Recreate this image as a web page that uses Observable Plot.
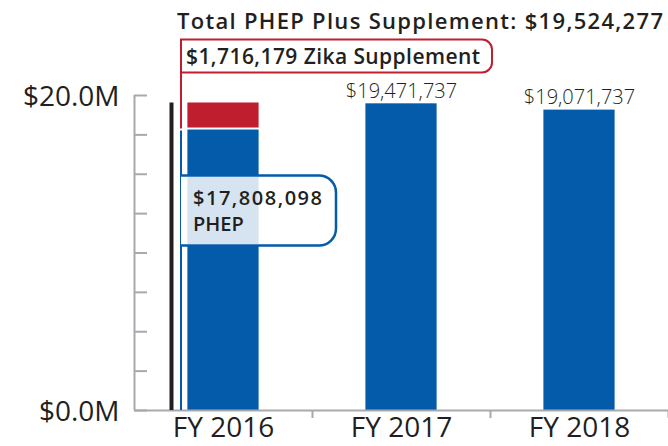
<!DOCTYPE html>
<html>
<head>
<meta charset="utf-8">
<script src="https://cdn.jsdelivr.net/npm/d3@7"></script>
<script src="https://cdn.jsdelivr.net/npm/@observablehq/plot@0.6"></script>
<style>
  html, body { margin: 0; padding: 0; background: #fff; }
  #chart { width: 668px; height: 446px; overflow: hidden; }
</style>
</head>
<body>
<div id="chart"></div>
<script>
// ---- data ----
const years = ["FY 2016", "FY 2017", "FY 2018"];
const phep = [17808098, 19471737, 19071737];
const zika = [1716179, 0, 0];
const yTicks = [0, 2.5e6, 5e6, 7.5e6, 10e6, 12.5e6, 15e6, 17.5e6, 20e6];
const yLabelTicks = [0, 20e6];
const xBoundaries = [0.5, 1.5, 2.5];
const titleText = "Total PHEP Plus Supplement: $19,524,277";
const zikaLabel = "$1,716,179 Zika Supplement";
const phepLabel = ["$17,808,098", "PHEP"];

// ---- style ----
const blue = "#035ba9", red = "#be1e2d", gray = "#a7a9ac", ink = "#231f20";
const lightBlue = "#d5e4f0";
const barHalf = 0.2;
const font = "'Open Sans', 'Noto Sans', sans-serif";

const rows = years.map((year, i) => ({
  i, year, phep: phep[i], zika: zika[i], total: phep[i] + zika[i]
}));
const fmt = d3.format("$,");

const chart = Plot.plot({
  width: 668,
  height: 446,
  marginLeft: 134,
  marginRight: 0,
  marginTop: 95,
  marginBottom: 36,
  style: {fontFamily: font, color: ink, background: "white", overflow: "visible"},
  x: {domain: [-0.5, 2.5], axis: null},
  y: {domain: [0, 20e6], axis: null},
  marks: [
    Plot.rectY(rows, {x1: d => d.i - barHalf, x2: d => d.i + barHalf, y1: 0, y2: "phep", fill: blue}),
    Plot.rectY(rows.filter(d => d.zika > 0), {x1: d => d.i - barHalf, x2: d => d.i + barHalf, y1: "phep", y2: "total", fill: red, insetBottom: 2}),
    Plot.ruleY([0], {stroke: gray, strokeWidth: 2}),
    Plot.ruleX([-0.5], {y1: 0, y2: 20e6, stroke: gray, strokeWidth: 2}),
    Plot.axisY({ticks: yTicks, tickSize: -13, tickFormat: () => "", label: null, stroke: gray, strokeWidth: 2}),
    Plot.axisY({ticks: yLabelTicks, tickSize: 0, tickPadding: 15, fontSize: 28, dy: 2, label: null,
      tickFormat: d => `$${(d / 1e6).toFixed(1)}M`, fill: ink}),
    Plot.axisX({ticks: xBoundaries, tickSize: 8, tickFormat: () => "", label: null, stroke: gray, strokeWidth: 2}),
    Plot.axisX({ticks: rows.map(d => d.i), tickSize: 0, tickPadding: 7, fontSize: 28, label: null,
      tickFormat: i => years[i], fill: ink}),
    Plot.text(rows.filter(d => d.zika === 0), {x: "i", y: "total", text: d => fmt(d.total),
      lineAnchor: "bottom", dy: -6, fontSize: 20, fontWeight: 300, fill: ink}),
    Plot.ruleX(rows.filter(d => d.zika > 0), {x: "i", y1: 0, y2: "total", dx: -52, stroke: ink, strokeWidth: 4})
  ]
});

document.getElementById("chart").appendChild(chart);

// ---- callouts anchored through Plot's scales ----
const svg = d3.select(chart);
const sx = chart.scale("x").apply, sy = chart.scale("y").apply;
const d0 = rows[0];
const lineX = sx(d0.i) - 42;
const barL = sx(d0.i - barHalf), barR = sx(d0.i + barHalf);
const yTop = sy(d0.total), yPhep = sy(d0.phep), yZero = sy(0);
const g = svg.append("g").attr("font-family", font).attr("text-anchor", "start");

// Title
g.append("text")
  .attr("x", 663).attr("y", 29)
  .attr("text-anchor", "end")
  .attr("font-size", 22).attr("font-weight", 600).attr("fill", ink)
  .attr("textLength", 486).attr("lengthAdjust", "spacing")
  .text(titleText);

// Zika callout
const zBottom = yTop - 30, zTop = zBottom - 33, r1 = 10;
g.append("text")
  .attr("x", lineX + 5).attr("y", zBottom - 8)
  .attr("font-size", 21).attr("font-weight", 600).attr("fill", ink)
  .attr("textLength", 294).attr("lengthAdjust", "spacing")
  .text(zikaLabel);
const zRight = lineX + 5 + 294 + 12;
g.insert("path", "text")
  .attr("d", `M${lineX},${zTop}H${zRight - r1}A${r1},${r1} 0 0 1 ${zRight},${zTop + r1}V${zBottom - r1}A${r1},${r1} 0 0 1 ${zRight - r1},${zBottom}H${lineX}Z`)
  .attr("fill", "white").attr("stroke", red).attr("stroke-width", 2);
g.append("line")
  .attr("x1", lineX).attr("x2", lineX).attr("y1", zBottom).attr("y2", yPhep - 1)
  .attr("stroke", red).attr("stroke-width", 2);

// PHEP callout
const pTop = yPhep + 46, pBottom = pTop + 70, r2 = 17;
const pTextW = 129;
const pRight = lineX + 12 + pTextW + 14;
g.append("line")
  .attr("x1", lineX).attr("x2", lineX).attr("y1", yPhep + 1).attr("y2", yZero)
  .attr("stroke", blue).attr("stroke-width", 2);
g.append("path")
  .attr("d", `M${lineX},${pTop}H${pRight - r2}A${r2},${r2} 0 0 1 ${pRight},${pTop + r2}V${pBottom - r2}A${r2},${r2} 0 0 1 ${pRight - r2},${pBottom}H${lineX}`)
  .attr("fill", "white").attr("stroke", blue).attr("stroke-width", 2.5);
g.append("rect")
  .attr("x", barL).attr("width", barR - barL)
  .attr("y", pTop + 1.5).attr("height", pBottom - pTop - 3)
  .attr("fill", lightBlue);
g.append("text")
  .attr("x", lineX + 12).attr("y", pTop + 29)
  .attr("font-size", 20).attr("font-weight", 600).attr("fill", ink)
  .attr("textLength", pTextW).attr("lengthAdjust", "spacing")
  .text(phepLabel[0]);
g.append("text")
  .attr("x", lineX + 12).attr("y", pTop + 55)
  .attr("font-size", 20).attr("font-weight", 600).attr("fill", ink)
  .text(phepLabel[1]);
</script>
</body>
</html>
